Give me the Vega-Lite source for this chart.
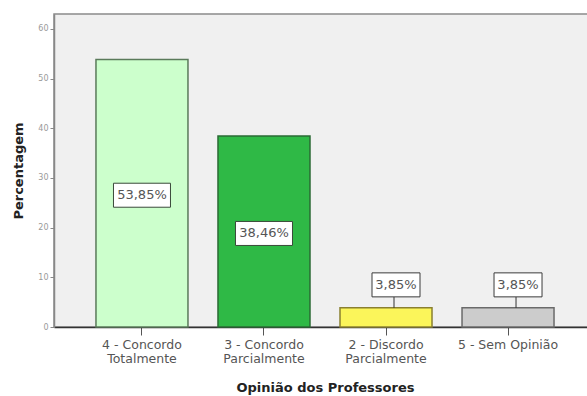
{
  "$schema": "https://vega.github.io/schema/vega-lite/v6.json",
  "width": 542,
  "height": 313,
  "autosize": "none",
  "padding": {"left": 54, "top": 14, "right": 0, "bottom": 69},
  "background": "white",
  "config": {
    "view": {"fill": "#f0f0f0", "stroke": "#8a8a8a", "strokeWidth": 1.5},
    "font": "DejaVu Sans"
  },
  "data": {
    "values": [
      {"cat": "4 - Concordo|Totalmente", "pct": 53.85, "label": "53,85%"},
      {"cat": "3 - Concordo|Parcialmente", "pct": 38.46, "label": "38,46%"},
      {"cat": "2 - Discordo|Parcialmente", "pct": 3.85, "label": "3,85%"},
      {"cat": "5 - Sem Opinião", "pct": 3.85, "label": "3,85%"}
    ]
  },
  "encoding": {
    "x": {
      "field": "cat", "type": "nominal", "sort": null,
      "scale": {"paddingInner": 0.246, "paddingOuter": 0.344},
      "axis": {
        "title": "Opinião dos Professores",
        "titleFontSize": 13, "titleFontWeight": "bold", "titleColor": "#222",
        "titlePadding": 17,
        "labelAngle": 0, "labelFontSize": 12.5, "labelColor": "#555",
        "labelExpr": "split(datum.label, '|')", "labelLineHeight": 14,
        "labelPadding": 3,
        "tickSize": 8, "tickColor": "#555", "domainColor": "#333", "domainWidth": 1.5
      }
    }
  },
  "layer": [
    {
      "mark": {"type": "bar", "strokeWidth": 1.5},
      "encoding": {
        "y": {
          "field": "pct", "type": "quantitative",
          "scale": {"domain": [0, 63], "nice": false},
          "axis": {
            "title": "Percentagem", "titleFontSize": 13, "titleFontWeight": "bold",
            "titleColor": "#222", "titlePadding": 12,
            "values": [0, 10, 20, 30, 40, 50, 60], "grid": false,
            "labelFontSize": 8, "labelColor": "#999", "tickSize": 4, "tickColor": "#888",
            "domainColor": "#888", "domainWidth": 1.5, "labelPadding": 2
          }
        },
        "fill": {
          "field": "cat", "type": "nominal", "legend": null,
          "scale": {
            "domain": ["4 - Concordo|Totalmente", "3 - Concordo|Parcialmente", "2 - Discordo|Parcialmente", "5 - Sem Opinião"],
            "range": ["#ccffcc", "#2fb946", "#fbf55a", "#cccccc"]
          }
        },
        "stroke": {
          "field": "cat", "type": "nominal", "legend": null,
          "scale": {
            "domain": ["4 - Concordo|Totalmente", "3 - Concordo|Parcialmente", "2 - Discordo|Parcialmente", "5 - Sem Opinião"],
            "range": ["#5a7a5a", "#2a6a34", "#8a8030", "#6a6a6a"]
          }
        }
      }
    },
    {
      "transform": [{"filter": "datum.pct > 10"}, {"calculate": "datum.pct / 2", "as": "mid"}],
      "mark": {"type": "bar", "width": 57, "fill": "white", "stroke": "#3a4a3a", "strokeWidth": 1, "yOffset": -10, "y2Offset": 14},
      "encoding": {
        "y": {"field": "mid", "type": "quantitative"},
        "y2": {"field": "mid"}
      }
    },
    {
      "transform": [{"filter": "datum.pct > 10"}, {"calculate": "datum.pct / 2", "as": "mid"}],
      "mark": {"type": "text", "fontSize": 13, "color": "#555", "baseline": "middle", "align": "center", "dy": 2},
      "encoding": {
        "y": {"field": "mid", "type": "quantitative"},
        "text": {"field": "label"}
      }
    },
    {
      "transform": [{"filter": "datum.pct < 10"}],
      "mark": {"type": "rule", "stroke": "#333", "strokeWidth": 1, "xOffset": 8, "y2Offset": -11},
      "encoding": {
        "y": {"field": "pct", "type": "quantitative"},
        "y2": {"field": "pct"}
      }
    },
    {
      "transform": [{"filter": "datum.pct < 10"}],
      "mark": {"type": "bar", "width": 48, "fill": "white", "stroke": "#3a3a3a", "strokeWidth": 1, "xOffset": 10, "yOffset": -35, "y2Offset": -11},
      "encoding": {
        "y": {"field": "pct", "type": "quantitative"},
        "y2": {"field": "pct"}
      }
    },
    {
      "transform": [{"filter": "datum.pct < 10"}],
      "mark": {"type": "text", "fontSize": 13, "color": "#555", "baseline": "middle", "align": "center", "xOffset": 10, "yOffset": -23},
      "encoding": {
        "y": {"field": "pct", "type": "quantitative"},
        "text": {"field": "label"}
      }
    }
  ]
}
